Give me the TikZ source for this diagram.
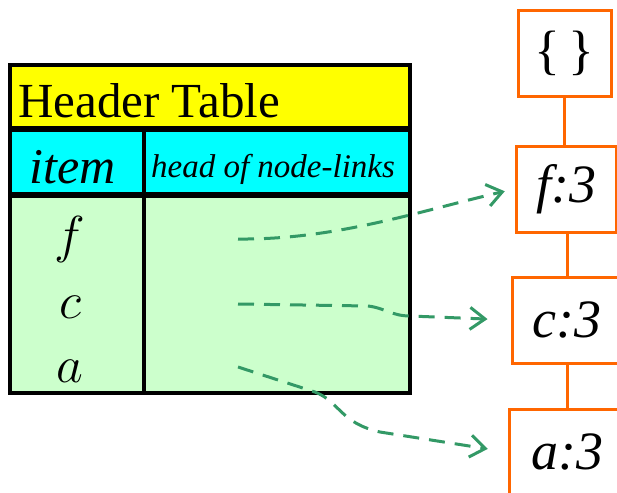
\RequirePackage{fix-cm}
\documentclass[tikz,border=0pt]{standalone}
\usepackage{fontspec}
\setmainfont{Liberation Serif}
\usetikzlibrary{arrows.meta}
\definecolor{hdryellow}{RGB}{255,255,0}
\definecolor{hdrcyan}{RGB}{0,255,255}
\definecolor{rowgreen}{RGB}{204,255,204}
\definecolor{treeorange}{RGB}{255,102,0}
\definecolor{linkgreen}{RGB}{51,153,102}
\begin{document}
\begin{tikzpicture}[x=1pt,y=-1pt,
  cell/.style={draw=black,line width=3.2pt,inner sep=0pt},
  rule/.style={draw=black,line width=5pt},
  treebox/.style={draw=treeorange,line width=3pt,inner sep=0pt,minimum height=86pt,
    font=\fontsize{54}{54}\selectfont},
  treeedge/.style={draw=treeorange,line width=3pt},
  nodelink/.style={draw=linkgreen,line width=3pt,dash pattern=on 16pt off 10pt,
    -{Straight Barb[length=15pt,width=22pt]}},
  rowlbl/.style={anchor=base,font=\fontsize{52}{52}\selectfont}]
\useasboundingbox (0,0) rectangle (617,492);
\clip (0,0) rectangle (617,492);

% header table cells
\node[cell,fill=hdryellow,minimum width=400pt,minimum height=65pt] (hdr) at (210,97.5) {};
\node[cell,fill=hdrcyan,minimum width=134pt,minimum height=66pt] (itemcell) at (77,163) {};
\node[cell,fill=hdrcyan,minimum width=266pt,minimum height=66pt] (headcell) at (277,163) {};
\node[cell,fill=rowgreen,minimum width=134pt,minimum height=197pt] (itemcol) at (77,294.5) {};
\node[cell,fill=rowgreen,minimum width=266pt,minimum height=197pt] (headcol) at (277,294.5) {};
\draw[rule] (itemcell.north west) -- (headcell.north east);
\draw[rule] (itemcol.north west) -- (headcol.north east);

% table texts
\node[anchor=base west,inner sep=0pt,font=\fontsize{49}{50}\selectfont] (title) at (18,117) {Header Table};
\node[anchor=base,font=\fontsize{50}{50}\selectfont\itshape] (itemlbl) at (73,183) {item};
\node[anchor=base,font=\fontsize{33}{33}\selectfont\itshape] (headlbl) at (273,177) {head of node-links};
\node[rowlbl] (frow) at (70,252) {$f$};
\node[rowlbl] (crow) at (70,318) {$c$};
\node[rowlbl] (arow) at (70,382) {$a$};

% FP-tree path
\node[treebox,minimum width=93pt] (root) at (564.5,53.5) {\{\,\}};
\node[treebox,minimum width=100pt] (fbox) at (566,189) {\itshape f:3};
\node[treebox,minimum width=110pt] (cbox) at (567,320) {\itshape c:3};
\node[treebox,minimum width=116pt] (abox) at (567,452) {\itshape a:3};
\draw[treeedge] (root.south) -- (root.south |- fbox.north);
\draw[treeedge] (fbox.south -| cbox.north) -- (cbox.north);
\draw[treeedge] (cbox.south) -- (abox.north);

% node-links from the header table
\coordinate (fstart) at (238,239);
\coordinate (cstart) at (238,304);
\coordinate (astart) at (238,367);
\draw[nodelink,shorten >=10pt] (fstart) .. controls (335,240) and (420,211) .. (fbox.west);
\draw[nodelink,shorten >=23pt] (cstart) -- (368,306) .. controls (385,308) and (392,316) .. (410,316) -- (cbox.west);
\draw[nodelink,shorten >=20pt] (astart) -- (315,392) .. controls (340,402) and (340,423) .. (380,432) -- (abox.west);
\end{tikzpicture}
\end{document}
